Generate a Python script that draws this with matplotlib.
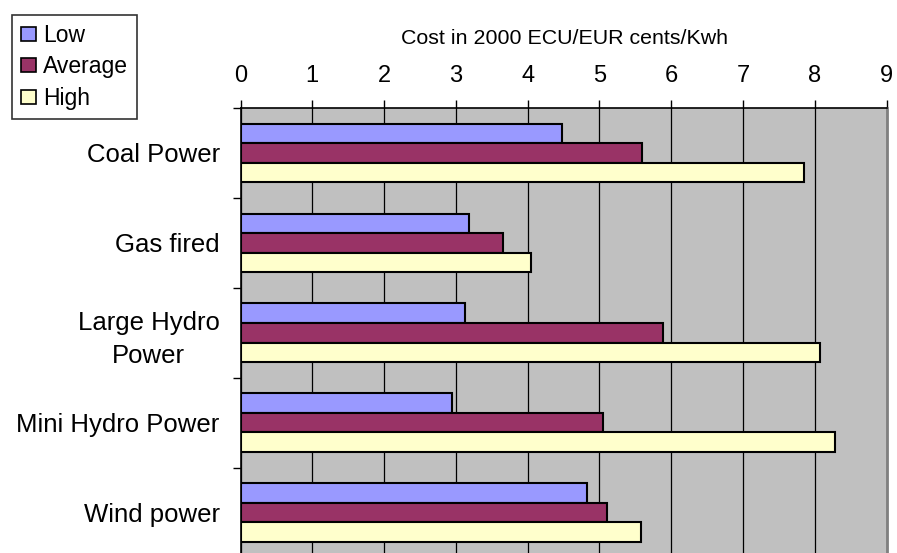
import numpy as np
import matplotlib
matplotlib.use('Agg')
from matplotlib import pyplot as plt
from matplotlib.patches import Patch

plt.rcParams['font.family'] = ['Liberation Sans', 'DejaVu Sans']

# data
categories = ['Coal Power', 'Gas fired', 'Large Hydro\nPower', 'Mini Hydro Power', 'Wind power']
low = [4.48, 3.19, 3.13, 2.94, 4.83]
average = [5.60, 3.66, 5.89, 5.05, 5.11]
high = [7.85, 4.05, 8.08, 8.28, 5.58]
series_names = ['Low', 'Average', 'High']
xticks = list(range(0, 10))
xlabel = 'Cost in 2000 ECU/EUR cents/Kwh'

colors = ['#9999FF', '#993366', '#FFFFCC']

W, H = 897, 553
fig = plt.figure(figsize=(W / 100, H / 100), dpi=100)
# plot area runs a little past the bottom edge, like the original
ax = fig.add_axes([240.5 / W, 1 - 557.5 / H, 646 / W, 449.5 / H])
ax.set_facecolor('#C0C0C0')

y = np.arange(len(categories))
h = 0.217
for k, vals in enumerate([low, average, high]):
    ax.barh(y + (k - 1) * h, vals, height=h, color=colors[k],
            edgecolor='black', linewidth=1.5, zorder=3)

ax.set_xlim(0, 9)
ax.set_ylim(len(categories) - 0.5, -0.5)

# x axis on top
ax.xaxis.tick_top()
ax.set_xticks(xticks)
ax.tick_params(axis='x', which='major', direction='out', length=5.8, width=1,
               labelsize=17, pad=9)
ax.grid(axis='x', color='black', linewidth=0.9, zorder=1)

# categories at the centres, small ticks at the boundaries
ax.set_yticks(y)
ax.set_yticklabels(categories, multialignment='center', linespacing=1.45)
ax.set_yticks(np.arange(-0.5, len(categories), 1.0), minor=True)
ax.tick_params(axis='y', which='major', length=0, labelsize=18.5, pad=15)
ax.tick_params(axis='y', which='minor', direction='out', length=5.8, width=1)

ax.spines['top'].set_color('black')
ax.spines['top'].set_linewidth(1.2)
ax.spines['left'].set_color('black')
ax.spines['left'].set_linewidth(1.2)
ax.spines['right'].set_color('#808080')
ax.spines['right'].set_linewidth(2)
ax.spines['bottom'].set_visible(False)

fig.text(564 / W, 1 - 44.3 / H, xlabel, ha='center', va='baseline', fontsize=15.4)

handles = [Patch(facecolor=c, edgecolor='black', linewidth=1.2) for c in colors]
leg = fig.legend(handles, series_names, loc='upper left',
                 bbox_to_anchor=(12 / W, 1 - 15 / H), borderaxespad=0,
                 fontsize=16.5, handlelength=0.68, handleheight=0.56,
                 handletextpad=0.3, labelspacing=0.38, borderpad=0.38,
                 frameon=True, fancybox=False, edgecolor='black')
leg.get_frame().set_linewidth(1.2)

fig.savefig('out.png', dpi=100)
